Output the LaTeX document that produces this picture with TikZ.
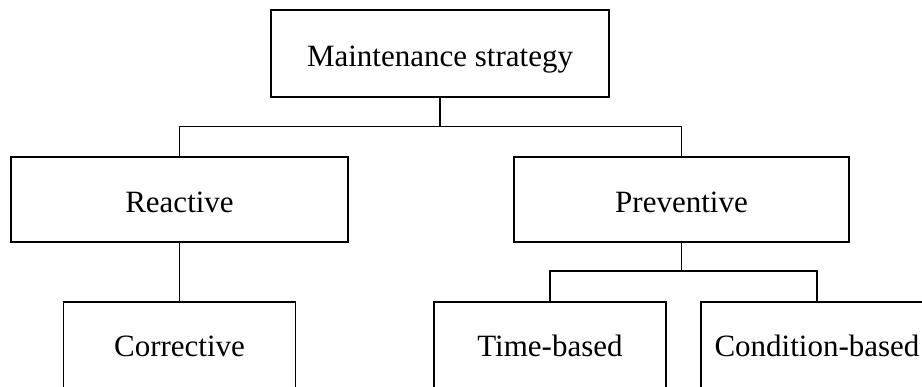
\documentclass[tikz,border=0pt]{standalone}
\usepackage{fontspec}
\setmainfont{Liberation Serif}
\begin{document}
\begin{tikzpicture}[x=1pt,y=-1pt,
  box/.style={draw,line width=1.9pt,inner sep=0pt,text height=26pt,text depth=0pt,
    font=\fontsize{31}{36}\selectfont},
  leaf/.style={box,minimum width=232pt,minimum height=95pt,text height=13pt},
  wire/.style={line width=1.9pt}]
\useasboundingbox (0,0) rectangle (922,386);
\clip (0,0) rectangle (922,386);
% hierarchy of boxes
\node[box,minimum width=338pt,minimum height=87pt] (root) at (440,53.5) {Maintenance strategy};
\node[box,minimum width=337pt,minimum height=85pt] (reac) at (179.5,199.5) {Reactive};
\node[box,minimum width=335pt,minimum height=85pt] (prev) at (681.5,199.5) {Preventive};
\node[leaf] (corr) at (179.5,349.5) {Corrective};
\node[leaf] (time) at (550,349.5) {Time-based};
\node[leaf] (cond) at (817,349.5) {Condition-based};
% connectors
\coordinate (bus1) at (440,126.5);
\coordinate (bus2) at (681.5,271);
\draw[wire] (root.south) -- (bus1);
\draw[wire] (reac.north) |- (bus1) -| (prev.north);
\draw[wire] (reac.south) -- (corr.north);
\draw[wire] (prev.south) -- (bus2);
\draw[wire] (time.north) |- (bus2) -| (cond.north);
\end{tikzpicture}
\end{document}
